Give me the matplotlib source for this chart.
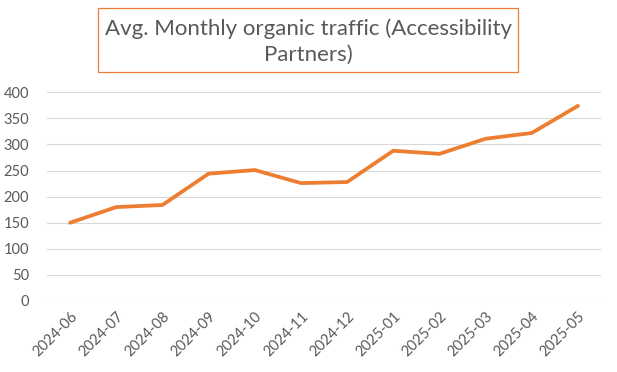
import matplotlib.pyplot as plt
from matplotlib.patches import Rectangle

months = [
    "2024-06", "2024-07", "2024-08", "2024-09", "2024-10", "2024-11",
    "2024-12", "2025-01", "2025-02", "2025-03", "2025-04", "2025-05",
]
traffic = [150, 180, 184, 244, 251, 226, 228, 288, 282, 311, 322, 374]
y_ticks = [0, 50, 100, 150, 200, 250, 300, 350, 400]

TEXT = "#595959"
ORANGE = "#ED7D31"

plt.rcParams["font.family"] = ["Lato", "DejaVu Sans"]

fig = plt.figure(figsize=(6.17, 3.72), dpi=100)
ax = fig.add_axes([47 / 617, 1 - 301 / 372, 554 / 617, (301 - 92.3) / 372])

x = list(range(len(months)))
ax.plot(x, traffic, color=ORANGE, linewidth=2.7, solid_capstyle="round", solid_joinstyle="round", zorder=3)

ax.set_xlim(-0.5, len(months) - 0.5)
ax.set_ylim(0, 400)
ax.set_yticks(y_ticks)
ax.set_xticks(x)
ax.set_xticklabels(months, rotation=45, ha="right", va="top", rotation_mode="anchor")
ax.tick_params(axis="both", length=0, colors=TEXT, labelsize=10.5)
ax.tick_params(axis="y", pad=13)
ax.tick_params(axis="x", pad=6)
ax.grid(axis="y", color="#D9D9D9", linewidth=0.8)
ax.set_axisbelow(True)
for s in ax.spines.values():
    s.set_visible(False)

# title in an orange-bordered box
fig.patches.append(Rectangle((98 / 617, 1 - 72 / 372), 420 / 617, 64 / 372,
                             transform=fig.transFigure, fill=False,
                             edgecolor=ORANGE, linewidth=0.9))
fig.text(0.5, 1 - 42 / 372, "Avg. Monthly organic traffic (Accessibility\nPartners)",
         ha="center", va="center", fontsize=16, color=TEXT, linespacing=1.35)

fig.savefig("out.png", dpi=100)
